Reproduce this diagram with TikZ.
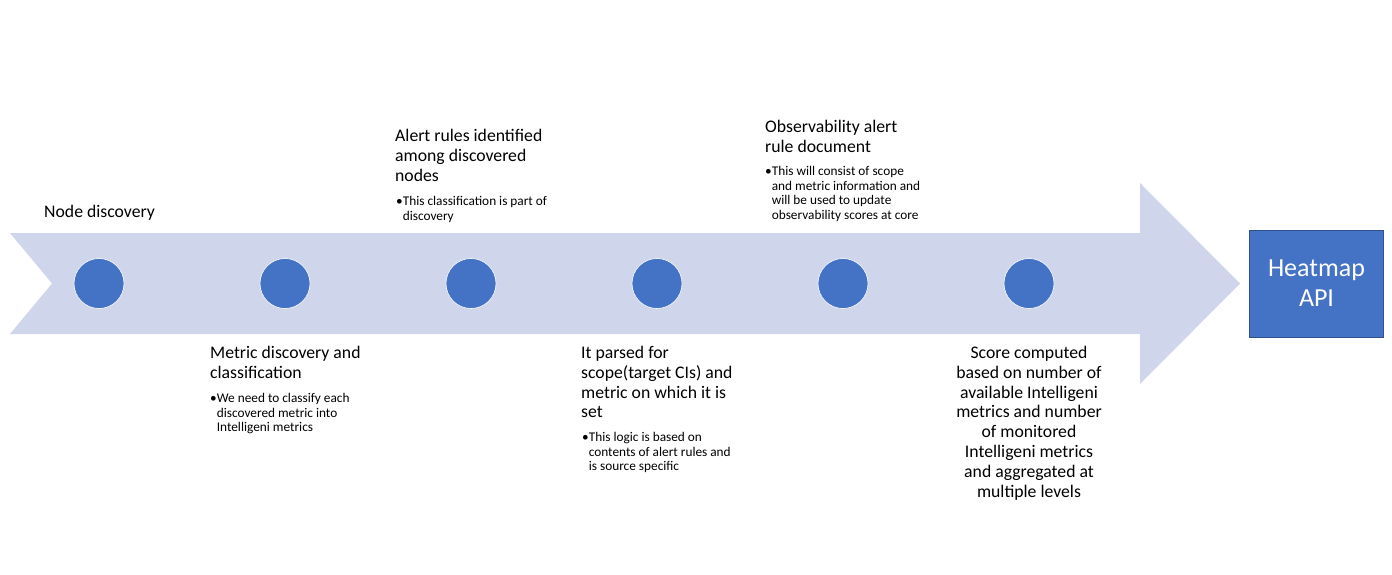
\documentclass[tikz,border=0pt]{standalone}
\usepackage{fontspec}
\setmainfont{Carlito}
\definecolor{bandblue}{HTML}{CFD5EA}
\definecolor{stepblue}{HTML}{4472C4}
\definecolor{edgeblue}{HTML}{2F528F}
\begin{document}
\begin{tikzpicture}[x=1pt,y=-1pt,
    title/.style={font=\fontsize{17.7}{19.8}\selectfont, align=left, inner sep=0pt, anchor=north west},
    bullets/.style={font=\fontsize{13.3}{14.6}\selectfont, align=left, inner sep=0pt, anchor=north west},
    stage/.style={circle, fill=stepblue, draw=white, line width=0.6pt, minimum size=50pt, inner sep=0pt}]
  % Page frame
  \useasboundingbox (0,0) rectangle (1392,575);
  % Band of the timeline arrow
  \def\ytop{233}
  \def\ybot{334}
  \def\ymid{283.5}
  \fill[bandblue] (10,\ytop) -- (1140,\ytop) -- (1140,183) -- (1240,\ymid)
    -- (1140,384) -- (1140,\ybot) -- (10,\ybot) -- (52,\ymid) -- cycle;
  % Stages on the band
  \foreach \i/\x in {1/99,2/285,3/471,4/657,5/843,6/1029}
    \node[stage] (s\i) at (\x,\ymid) {};
  % Stage titles
  \node[title] (t1) at (44,205) {Node discovery};
  \node[title] (t2) at (210,346) {Metric discovery and\\classification};
  \node[title] (t3) at (395,129) {Alert rules identified\\among discovered\\nodes};
  \node[title] (t4) at (581,346) {It parsed for\\scope(target CIs) and\\metric on which it is\\set};
  \node[title] (t5) at (765,120) {Observability alert\\rule document};
  \node[title, align=center, anchor=north] (t6) at (1029,346) {Score computed\\based on number of\\available Intelligeni\\metrics and number\\of monitored\\Intelligeni metrics\\and aggregated at\\multiple levels};
  % Bullet notes
  \node[bullets] (b2) at (210,393) {•We need to classify each\\\hphantom{•}discovered metric into\\\hphantom{•}Intelligeni metrics};
  \node[bullets] (b3) at (396,196) {•This classification is part of\\\hphantom{•}discovery};
  \node[bullets] (b4) at (582,432) {•This logic is based on\\\hphantom{•}contents of alert rules and\\\hphantom{•}is source specific};
  \node[bullets] (b5) at (765,166) {•This will consist of scope\\\hphantom{•}and metric information and\\\hphantom{•}will be used to update\\\hphantom{•}observability scores at core};
  % Target box
  \node[fill=stepblue, draw=edgeblue, line width=0.8pt, minimum width=134pt, minimum height=107pt,
    text=white, align=center, font=\fontsize{26}{30}\selectfont] (api) at (1316.5,283.5) {Heatmap\\API};
\end{tikzpicture}
\end{document}
